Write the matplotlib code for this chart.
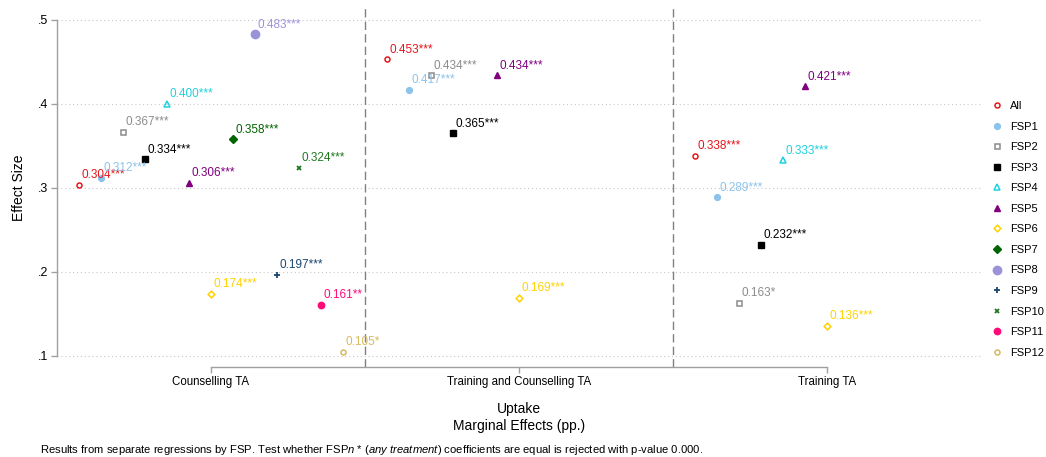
#!/usr/bin/env python3
"""
Effect sizes of the three TA treatments on uptake, by FSP.

Grouped dot plot: one column per treatment arm, one marker per FSP
(plus the pooled 'All' estimate), each labelled with its coefficient
and significance stars.
"""

import numpy as np
import matplotlib.pyplot as plt
from matplotlib.lines import Line2D

plt.rcParams['font.family'] = ['Liberation Sans', 'DejaVu Sans']
plt.rcParams['mathtext.fontset'] = 'custom'
plt.rcParams['mathtext.rm'] = 'Liberation Sans'
plt.rcParams['mathtext.it'] = 'Liberation Sans:italic'

treatments = ['Counselling TA', 'Training and Counselling TA', 'Training TA']
series = ['All', 'FSP1', 'FSP2', 'FSP3', 'FSP4', 'FSP5', 'FSP6',
          'FSP7', 'FSP8', 'FSP9', 'FSP10', 'FSP11', 'FSP12']

nan = np.nan
# coefficients per series: [Counselling, Training and Counselling, Training]
effects = {
    'All':   [0.304, 0.453, 0.338],
    'FSP1':  [0.312, 0.417, 0.289],
    'FSP2':  [0.367, 0.434, 0.163],
    'FSP3':  [0.334, 0.365, 0.232],
    'FSP4':  [0.400, nan, 0.333],
    'FSP5':  [0.306, 0.434, 0.421],
    'FSP6':  [0.174, 0.169, 0.136],
    'FSP7':  [0.358, nan, nan],
    'FSP8':  [0.483, nan, nan],
    'FSP9':  [0.197, nan, nan],
    'FSP10': [0.324, nan, nan],
    'FSP11': [0.161, nan, nan],
    'FSP12': [0.105, nan, nan],
}
stars = {
    'All':   ['***', '***', '***'],
    'FSP1':  ['***', '***', '***'],
    'FSP2':  ['***', '***', '*'],
    'FSP3':  ['***', '***', '***'],
    'FSP4':  ['***', '', '***'],
    'FSP5':  ['***', '***', '***'],
    'FSP6':  ['***', '***', '***'],
    'FSP7':  ['***', '', ''],
    'FSP8':  ['***', '', ''],
    'FSP9':  ['***', '', ''],
    'FSP10': ['***', '', ''],
    'FSP11': ['**', '', ''],
    'FSP12': ['*', '', ''],
}

y_ticks = [0.1, 0.2, 0.3, 0.4, 0.5]
y_tick_labels = ['.1', '.2', '.3', '.4', '.5']

# marker style per series: (marker, colour, size, hollow)
styles = {
    'All':   ('o', '#E4161C', 3.6, True),
    'FSP1':  ('o', '#8CC3EB', 4.2, False),
    'FSP2':  ('s', '#8C8C8C', 3.6, True),
    'FSP3':  ('s', '#000000', 4.4, False),
    'FSP4':  ('^', '#1ED2DF', 4.4, True),
    'FSP5':  ('^', '#800080', 5.0, False),
    'FSP6':  ('D', '#FFD200', 3.4, True),
    'FSP7':  ('D', '#006400', 4.0, False),
    'FSP8':  ('o', '#9A93D9', 6.0, False),
    'FSP9':  ('+', '#1A476F', 5.0, False),
    'FSP10': ('x', '#1F7A1F', 3.4, False),
    'FSP11': ('o', '#FF0A78', 4.6, False),
    'FSP12': ('o', '#D9B95F', 3.6, True),
}

AXIS_GREY = '#A0A0A0'


def draw_points(ax):
    """Plot every series with offsets inside each treatment column."""
    n = len(series)
    handles = []
    for i, name in enumerate(series):
        marker, color, size, hollow = styles[name]
        x = np.arange(1, len(treatments) + 1) + (i - (n - 1) / 2) / (n + 1)
        y = np.array(effects[name], dtype=float)
        kw = dict(linestyle='none', marker=marker, markersize=size,
                  color=color, zorder=3)
        if hollow:
            kw.update(markerfacecolor='none', markeredgewidth=1.1)
        elif marker in ('+', 'x'):
            kw.update(markeredgewidth=1.3)
        ax.plot(x, y, **kw)
        handles.append(Line2D([], [], label=name, **kw))

        for xi, yi, st in zip(x, y, stars[name]):
            if np.isnan(yi):
                continue
            ax.annotate(f'{yi:.3f}{st}', (xi, yi), xytext=(2, 7),
                        textcoords='offset points', ha='left', va='center',
                        fontsize=8.5, color=color, zorder=4)
    return handles


def style_axes(ax):
    ax.set_xlim(0.5, 3.5)
    ax.set_ylim(0.1 - 11 / 840, 0.5 + 12 / 840)

    ax.set_yticks(y_ticks)
    ax.set_yticklabels(y_tick_labels, fontsize=9)
    ax.set_xticks(range(1, len(treatments) + 1))
    ax.set_xticklabels(treatments, fontsize=8.3)

    for y in y_ticks:
        ax.axhline(y, color='#C8C8C8', linewidth=0.8,
                   linestyle=(0, (1, 2.5)), zorder=1)
    for x in (1.5, 2.5):
        ax.axvline(x, color='#808080', linewidth=1.0,
                   linestyle=(0, (6, 3)), zorder=2)

    for side in ('top', 'right'):
        ax.spines[side].set_visible(False)
    ax.spines['left'].set_bounds(0.1, 0.5)
    ax.spines['bottom'].set_bounds(1, 3)
    for side in ('left', 'bottom'):
        ax.spines[side].set_color(AXIS_GREY)
        ax.spines[side].set_linewidth(1.0)
    ax.tick_params(axis='both', color=AXIS_GREY, length=4, width=1.0,
                   pad=2.5, labelcolor='black')

    ax.set_ylabel('Effect Size', fontsize=10, labelpad=8)
    ax.set_xlabel('Uptake\nMarginal Effects (pp.)', fontsize=10,
                  linespacing=1.3, labelpad=10)


def main():
    fig = plt.figure(figsize=(10.46, 4.57), dpi=100)
    ax = fig.add_axes([57 / 1046, 90 / 457, 924 / 1046, 359 / 457])

    handles = draw_points(ax)
    style_axes(ax)

    fig.legend(handles=handles, loc='upper left',
               bbox_to_anchor=(993 / 1046, 1 - 101 / 457),
               frameon=False, fontsize=8, handlelength=0.8,
               handletextpad=0.75, labelspacing=0.95,
               borderpad=0, borderaxespad=0)

    fig.text(40 / 1046, 7 / 457,
             r'Results from separate regressions by FSP. Test whether '
             r'FSP$\mathit{n}$ * ($\mathit{any\ treatment}$) coefficients '
             r'are equal is rejected with p-value 0.000.',
             fontsize=8.1, ha='left', va='center')

    fig.savefig('out.png', dpi=100)
    plt.close(fig)


if __name__ == '__main__':
    main()
